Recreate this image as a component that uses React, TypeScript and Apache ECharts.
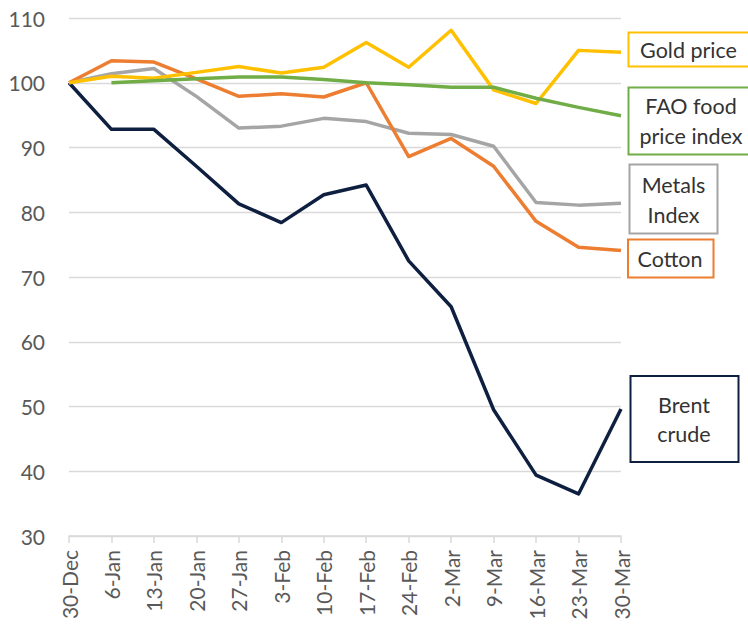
import React, { useEffect, useRef } from "react";
import * as echarts from "echarts";

const categories = ["30-Dec", "6-Jan", "13-Jan", "20-Jan", "27-Jan", "3-Feb", "10-Feb", "17-Feb", "24-Feb", "2-Mar", "9-Mar", "16-Mar", "23-Mar", "30-Mar"];
const brentCrude = [100, 92.8, 92.8, 87.1, 81.3, 78.4, 82.7, 84.2, 72.5, 65.4, 49.5, 39.4, 36.5, 49.6];
const goldPrice = [100, 101.0, 100.7, 101.6, 102.5, 101.5, 102.4, 106.2, 102.4, 108.1, 98.9, 96.8, 105.0, 104.7];
const faoFood: (number | null)[] = [null, 100.0, 100.3, 100.6, 100.9, 100.9, 100.5, 100.0, 99.7, 99.3, 99.3, 97.6, 96.2, 94.9];
const metalsIndex = [100, 101.4, 102.2, 97.9, 93.0, 93.3, 94.5, 94.0, 92.2, 92.0, 90.2, 81.5, 81.1, 81.4];
const cotton = [100, 103.4, 103.2, 100.6, 97.9, 98.3, 97.8, 100.0, 88.6, 91.4, 87.1, 78.6, 74.6, 74.1];
const yTicks = { min: 30, max: 110, interval: 10 };

const FONT = "Lato, 'Open Sans', sans-serif";
const TEXT = "#333333";

const labelBoxes = [
  { color: "#FFC000", x: 628.5, y: 32.5, w: 130, h: 34, lines: ["Gold price"], cx: 688.5, cy: [50] },
  { color: "#70AD47", x: 628.5, y: 87.5, w: 130, h: 67, lines: ["FAO food", "price index"], cx: 691, cy: [106, 136] },
  { color: "#A5A5A5", x: 629.5, y: 164.5, w: 88, h: 69, lines: ["Metals", "Index"], cx: 673.5, cy: [185, 215] },
  { color: "#ED7D31", x: 628, y: 239.5, w: 85.5, h: 38, lines: ["Cotton"], cx: 670, cy: [259] },
  { color: "#0E1F40", x: 630.5, y: 376, w: 108, h: 86, lines: ["Brent", "crude"], cx: 684, cy: [405, 434] },
];

export default function App() {
  const ref = useRef<HTMLDivElement>(null);
  useEffect(() => {
    if (!ref.current) return;
    const chart = echarts.init(ref.current, undefined, { renderer: "svg" });
    const mk = (name: string, data: (number | null)[], color: string) => ({
      name,
      type: "line",
      data,
      symbol: "none",
      smooth: false,
      connectNulls: false,
      lineStyle: { color, width: 3.5, join: "round" },
      itemStyle: { color },
    });
    const graphics: any[] = [];
    labelBoxes.forEach((b) => {
      graphics.push({
        type: "rect",
        shape: { x: b.x, y: b.y, width: b.w, height: b.h },
        style: { fill: "#ffffff", stroke: b.color, lineWidth: 2 },
        z: 10,
      });
      b.lines.forEach((t, i) => {
        graphics.push({
          type: "text",
          style: {
            text: t,
            x: b.cx,
            y: b.cy[i],
            fill: TEXT,
            font: `21.5px ${FONT}`,
            align: "center",
            verticalAlign: "middle",
          },
          z: 11,
        });
      });
    });
    chart.setOption({
      animation: false,
      backgroundColor: "#ffffff",
      grid: { left: 69, right: 127, top: 18, bottom: 89, containLabel: false },
      xAxis: {
        type: "category",
        data: categories,
        boundaryGap: false,
        axisLine: { show: true, lineStyle: { color: "#d9d9d9", width: 1.5 } },
        axisTick: { show: true, length: 7, alignWithLabel: true, lineStyle: { color: "#d9d9d9", width: 1.5 } },
        axisLabel: { rotate: 90, fontSize: 21, fontFamily: FONT, color: "#595959", margin: 14, interval: 0 },
        splitLine: { show: false },
      },
      yAxis: {
        type: "value",
        min: yTicks.min,
        max: yTicks.max,
        interval: yTicks.interval,
        axisLine: { show: false },
        axisTick: { show: false },
        axisLabel: { fontSize: 21, fontFamily: FONT, color: "#595959", margin: 24 },
        splitLine: { show: true, lineStyle: { color: "#d9d9d9", width: 1.3 } },
      },
      series: [
        mk("Brent crude", brentCrude, "#0E1F40"),
        mk("Metals Index", metalsIndex, "#A5A5A5"),
        mk("Cotton", cotton, "#ED7D31"),
        mk("Gold price", goldPrice, "#FFC000"),
        mk("FAO food price index", faoFood, "#70AD47"),
      ],
      graphic: graphics,
    });
    return () => chart.dispose();
  }, []);
  return <div ref={ref} style={{ position: "absolute", left: 0, top: 0, width: 748, height: 625 }} />;
}
